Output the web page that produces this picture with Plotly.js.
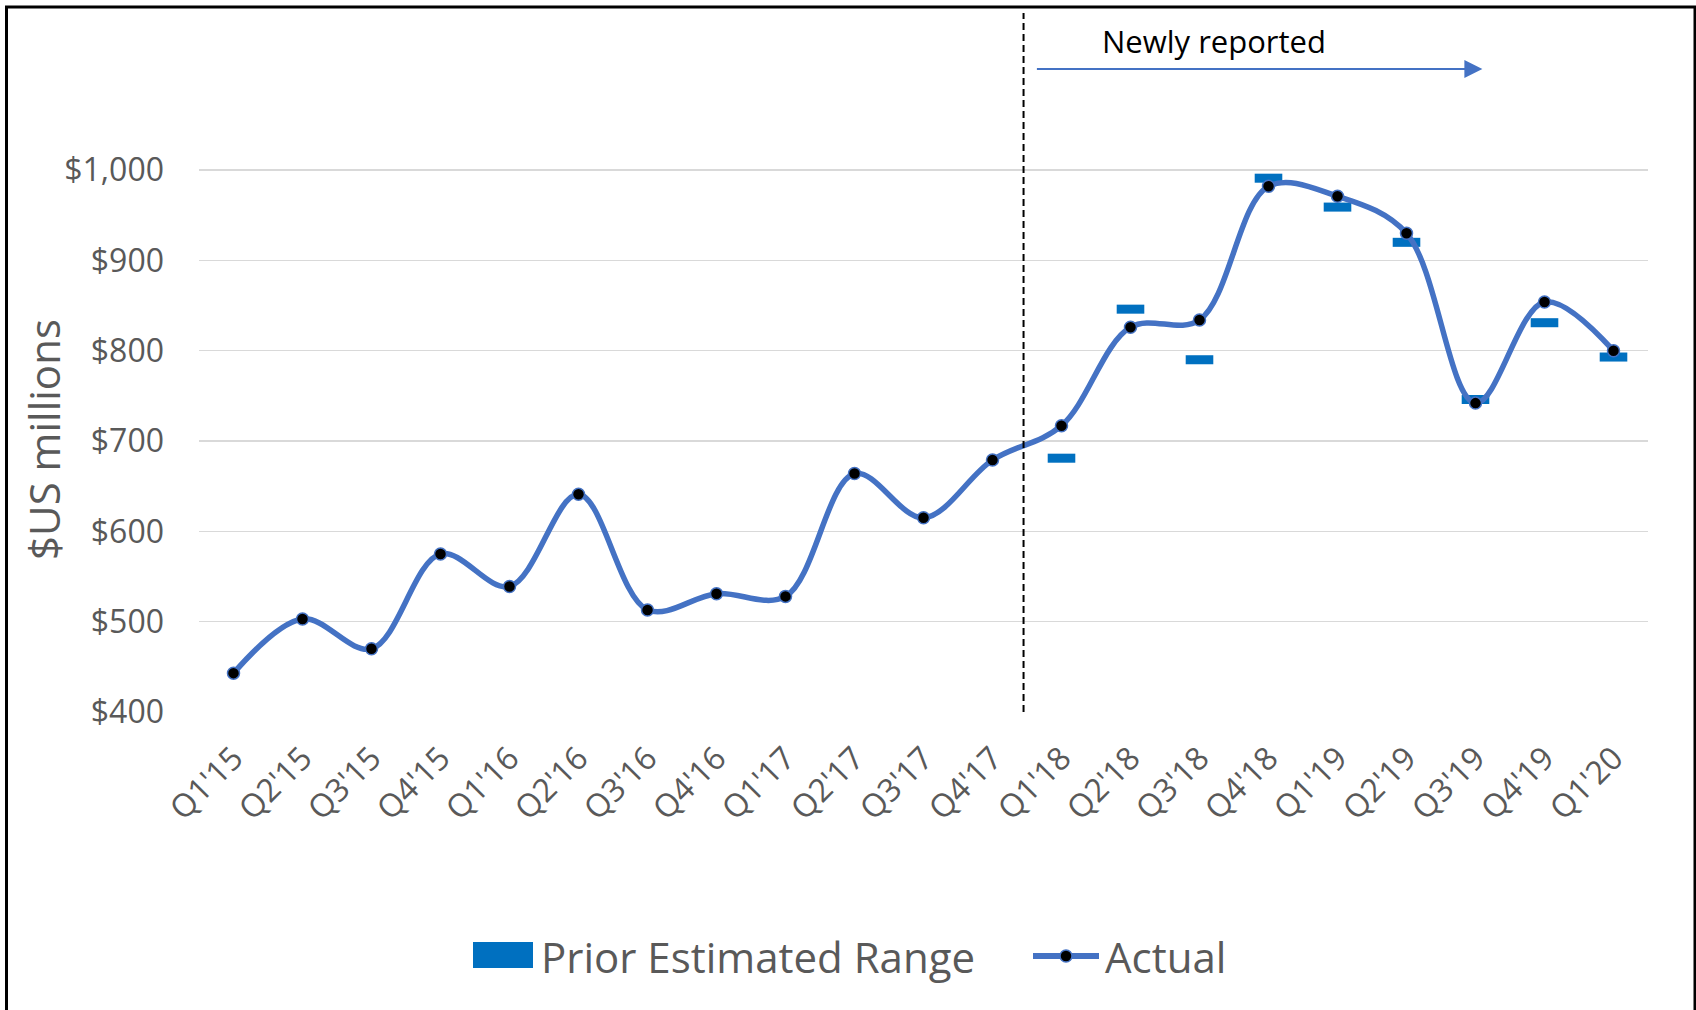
<!DOCTYPE html>
<html>
<head>
<meta charset="utf-8">
<script src="https://cdn.plot.ly/plotly-3.0.1.min.js"></script>
<style>
  html, body { margin: 0; padding: 0; background: #ffffff; }
  #chart { width: 1696px; height: 1010px; }
</style>
</head>
<body>
<div id="chart"></div>
<script>
// ---- Data ----
const quarters = ["Q1'15", "Q2'15", "Q3'15", "Q4'15", "Q1'16", "Q2'16", "Q3'16", "Q4'16",
                  "Q1'17", "Q2'17", "Q3'17", "Q4'17", "Q1'18", "Q2'18", "Q3'18", "Q4'18",
                  "Q1'19", "Q2'19", "Q3'19", "Q4'19", "Q1'20"];
const actual = [443, 503, 470, 575, 539, 641, 513, 531, 528, 664, 615, 679,
                717, 826, 834, 982, 971, 930, 742, 854, 800];
const priorQuarters = ["Q1'18", "Q2'18", "Q3'18", "Q4'18", "Q1'19", "Q2'19", "Q3'19", "Q4'19", "Q1'20"];
const priorEstimate = [681, 846, 790, 991, 959, 920, 746, 831, 793];
const yTicks = [400, 500, 600, 700, 800, 900, 1000];
const yTickLabels = ["$400", "$500", "$600", "$700", "$800", "$900", "$1,000"];
const seriesNames = ["Prior Estimated Range", "Actual"];
const axisTitle = "$US millions";
const noteText = "Newly reported";

// ---- Styling ----
const FONT = "Open Sans, Noto Sans, Arial, sans-serif";
const GREY = "#595959";
const LINE_BLUE = "#4472C4";
const BAR_BLUE = "#0070C0";
const BAND = 10; // visual thickness of the prior-estimate marks, in $ units

// plot area geometry in pixels (used only for paper-coord decorations)
const L = 199, R = 48, T = 152, B = 298, W = 1696, H = 1010;
const PW = W - L - R, PH = H - T - B;
const px = v => (v - L) / PW;          // page x -> paper x
const py = v => (H - B - v) / PH;      // page y -> paper y

const priorTrace = {
  type: "bar",
  name: seriesNames[0],
  x: priorQuarters,
  y: priorEstimate.map(() => BAND),
  base: priorEstimate.map(v => v - BAND / 2),
  width: 0.4,
  marker: { color: BAR_BLUE, line: { width: 0 } },
  hoverinfo: "x+text",
  text: priorEstimate.map(v => "$" + v),
  textposition: "none",
  showlegend: false
};

const actualTrace = {
  type: "scatter",
  mode: "lines+markers",
  name: seriesNames[1],
  x: quarters,
  y: actual,
  line: { color: LINE_BLUE, width: 5.5, shape: "spline", smoothing: 1 },
  marker: { color: "#000000", size: 12, line: { color: LINE_BLUE, width: 1.5 } },
  cliponaxis: false,
  showlegend: false
};

const layout = {
  width: W, height: H,
  margin: { l: L, r: R, t: T, b: B, pad: 0 },
  paper_bgcolor: "#ffffff",
  plot_bgcolor: "#ffffff",
  font: { family: FONT, color: GREY },
  showlegend: false,
  xaxis: {
    type: "category",
    categoryorder: "array",
    categoryarray: quarters,
    range: [-0.5, quarters.length - 0.5],
    tickangle: -45,
    tickfont: { family: FONT, size: 32, color: GREY },
    ticklabelstandoff: 20,
    showgrid: false,
    zeroline: false,
    showline: false,
    ticks: "",
    fixedrange: true
  },
  yaxis: {
    range: [400, 1020],
    tickmode: "array",
    tickvals: yTicks,
    ticktext: yTickLabels,
    tickfont: { family: FONT, size: 32, color: GREY },
    ticklabelstandoff: 34,
    showgrid: true,
    gridcolor: "#D9D9D9",
    gridwidth: 1.5,
    zeroline: false,
    showline: false,
    ticks: "",
    fixedrange: true
  },
  shapes: [
    // outer chart frame
    { type: "rect", xref: "paper", yref: "paper",
      x0: px(6.5), x1: px(1695), y0: py(1030), y1: py(7),
      line: { color: "#000000", width: 3 }, fillcolor: "rgba(0,0,0,0)", layer: "above" },
    // dashed divider between Q4'17 and Q1'18
    { type: "line", xref: "x", yref: "paper",
      x0: 11.45, x1: 11.45, y0: 0, y1: py(13),
      line: { color: "#000000", width: 2, dash: "7px,4px" } },
    // custom legend: bar swatch
    { type: "rect", xref: "paper", yref: "paper",
      x0: px(473), x1: px(533), y0: py(968), y1: py(942),
      line: { width: 0 }, fillcolor: BAR_BLUE },
    // custom legend: line swatch
    { type: "line", xref: "paper", yref: "paper",
      x0: px(1033), x1: px(1099), y0: py(956), y1: py(956),
      line: { color: LINE_BLUE, width: 6 } },
    // custom legend: marker
    { type: "circle", xref: "paper", yref: "paper",
      x0: px(1060), x1: px(1072), y0: py(962), y1: py(950),
      line: { color: LINE_BLUE, width: 1.5 }, fillcolor: "#000000" }
  ],
  annotations: [
    // y-axis title
    { xref: "paper", yref: "paper", x: px(43), y: py(440),
      text: axisTitle, textangle: -90, showarrow: false,
      xanchor: "center", yanchor: "middle",
      font: { family: FONT, size: 42, color: GREY } },
    { xref: "x", yref: "paper", x: 14.21, y: py(41),
      text: noteText, showarrow: false, xanchor: "center", yanchor: "middle",
      font: { family: FONT, size: 31, color: "#000000" } },
    { xref: "x", yref: "paper", x: 18.1, y: py(69),
      axref: "pixel", ayref: "pixel", ax: -447, ay: 0,
      text: "", showarrow: true, arrowhead: 2, arrowsize: 1.64, arrowwidth: 2.2,
      arrowcolor: LINE_BLUE, standoff: 0 },
    { xref: "paper", yref: "paper", x: px(539), y: py(956),
      text: seriesNames[0], showarrow: false, xanchor: "left", yanchor: "middle",
      font: { family: FONT, size: 42, color: GREY } },
    { xref: "paper", yref: "paper", x: px(1103), y: py(956),
      text: seriesNames[1], showarrow: false, xanchor: "left", yanchor: "middle",
      font: { family: FONT, size: 42, color: GREY } }
  ]
};

Plotly.newPlot("chart", [priorTrace, actualTrace], layout, { displayModeBar: false, staticPlot: true });
</script>
</body>
</html>
